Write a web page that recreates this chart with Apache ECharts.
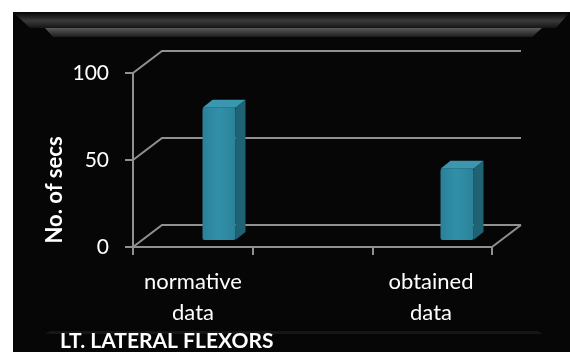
<!DOCTYPE html>
<html>
<head>
<meta charset="utf-8">
<script src="https://cdn.jsdelivr.net/npm/echarts@6/dist/echarts.min.js"></script>
<style>
  html, body { margin: 0; padding: 0; background: #fff; }
  #main { width: 570px; height: 352px; }
</style>
</head>
<body>
<div id="main"></div>
<script>
// chart data
const categories = ['normative\ndata', 'obtained\ndata'];
const seconds = [76, 41];
const yTicks = [0, 50, 100];
const yAxisName = 'No. of secs';
const chartTitle = 'LT. LATERAL FLEXORS';

// 3d look
const DEPTH_X = 29, DEPTH_Y = 22;      // back wall offset
const BAR_SHIFT = 26, BAR_LIFT = 7;    // bar sits a bit into the floor
const BAR_W = 33, BAR_DX = 10, BAR_DY = 8;
const LINE = '#909090';
const FONT = 'Lato, "Open Sans", sans-serif';

const myChart = echarts.init(document.getElementById('main'));

function renderBar(params, api) {
    const idx = api.value(0);
    const top = api.coord([idx, api.value(1)]);
    const base = api.coord([idx, 0]);
    const xl = top[0] + BAR_SHIFT - BAR_W / 2;
    const xr = xl + BAR_W;
    const yt = top[1] - BAR_LIFT;
    const yb = base[1] - BAR_LIFT;
    return {
        type: 'group',
        children: [
            {
                type: 'polygon',
                shape: {points: [[xr, yt], [xr + BAR_DX, yt - BAR_DY], [xr + BAR_DX, yb - BAR_DY], [xr, yb]]},
                style: {fill: '#1e6274'}
            },
            {
                type: 'polygon',
                shape: {points: [[xl, yt], [xl + BAR_DX, yt - BAR_DY], [xr + BAR_DX, yt - BAR_DY], [xr, yt]]},
                style: {fill: '#3a97af'}
            },
            {
                type: 'rect',
                shape: {x: xl, y: yt, width: BAR_W, height: yb - yt, r: 2},
                style: {
                    fill: new echarts.graphic.LinearGradient(0, 0, 1, 0, [
                        {offset: 0, color: '#2a8199'},
                        {offset: 0.5, color: '#3190a9'},
                        {offset: 1, color: '#2b8299'}
                    ])
                }
            }
        ]
    };
}

const option = {
    backgroundColor: '#fff',
    animation: false,
    title: {
        text: chartTitle,
        left: 55,
        top: 326,
        textStyle: {color: '#fff', fontFamily: FONT, fontWeight: 'bold', fontSize: 21}
    },
    grid: [
        {left: 133, right: 78, top: 73, bottom: 105},
        {left: 74, right: 20, top: 73, bottom: 105}
    ],
    xAxis: [
        {
            type: 'value', gridIndex: 0, min: 0, max: 3, interval: 1,
            axisLine: {show: true, lineStyle: {color: LINE, width: 2}},
            axisTick: {show: true, length: 8, lineStyle: {color: LINE, width: 2}},
            axisLabel: {show: false},
            splitLine: {show: false}
        },
        {
            type: 'category', gridIndex: 1, data: categories,
            axisLine: {show: false},
            axisTick: {show: false},
            axisLabel: {color: '#fff', fontFamily: FONT, fontSize: 22, lineHeight: 31, margin: 19}
        }
    ],
    yAxis: [
        {
            type: 'value', gridIndex: 0, min: 0, max: 100, interval: 50,
            axisLine: {show: true, lineStyle: {color: LINE, width: 2}},
            axisTick: {show: true, length: 8, lineStyle: {color: LINE, width: 2}},
            axisLabel: {color: '#fff', fontFamily: FONT, fontSize: 21, margin: 24},
            splitLine: {show: false}
        },
        {
            type: 'value', gridIndex: 1, min: 0, max: 100, interval: 50, show: false
        }
    ],
    series: [{
        type: 'custom',
        xAxisIndex: 1,
        yAxisIndex: 1,
        renderItem: renderBar,
        data: seconds.map((v, i) => [i, v]),
        z: 5
    }]
};

myChart.setOption(option);

// panel, bevel and 3d walls
const x0 = myChart.convertToPixel({xAxisIndex: 0}, 0);
const x3 = myChart.convertToPixel({xAxisIndex: 0}, 3);
const graphics = [
    {type: 'rect', z: -10, shape: {x: 13, y: 12, width: 557, height: 340}, style: {fill: '#060606'}},
    {
        type: 'polygon', z: -9,
        shape: {points: [[13, 12], [570, 12], [556, 28], [30, 28]]},
        style: {fill: new echarts.graphic.LinearGradient(0, 0, 0, 1, [
            {offset: 0, color: '#050505'},
            {offset: 0.55, color: '#3a3a3a'},
            {offset: 1, color: '#151515'}
        ])}
    },
    {
        type: 'polygon', z: -9,
        shape: {points: [[45, 28], [542, 28], [532, 37], [53, 37]]},
        style: {fill: new echarts.graphic.LinearGradient(0, 0, 0, 1, [
            {offset: 0, color: '#5a5a5a'},
            {offset: 1, color: '#1c1c1c'}
        ])}
    },
    {
        type: 'polygon', z: -9,
        shape: {points: [[50, 331], [538, 331], [543, 334], [45, 334]]},
        style: {fill: '#161616'}
    },
    {
        type: 'text', z: 10,
        x: 55, y: 190, rotation: Math.PI / 2,
        style: {
            text: yAxisName, fill: '#fff', font: 'bold 22px ' + FONT,
            align: 'center', verticalAlign: 'middle'
        }
    }
];
yTicks.forEach(v => {
    const y = myChart.convertToPixel({yAxisIndex: 0}, v);
    graphics.push({
        type: 'polyline', z: 1,
        shape: {points: [[x0, y], [x0 + DEPTH_X, y - DEPTH_Y], [x3 + DEPTH_X, y - DEPTH_Y]]},
        style: {stroke: LINE, lineWidth: 2, fill: null}
    });
});
const yFloor = myChart.convertToPixel({yAxisIndex: 0}, 0);
graphics.push({
    type: 'line', z: 1,
    shape: {x1: x3, y1: yFloor, x2: x3 + DEPTH_X, y2: yFloor - DEPTH_Y},
    style: {stroke: LINE, lineWidth: 2}
});

myChart.setOption({graphic: graphics});
</script>
</body>
</html>
